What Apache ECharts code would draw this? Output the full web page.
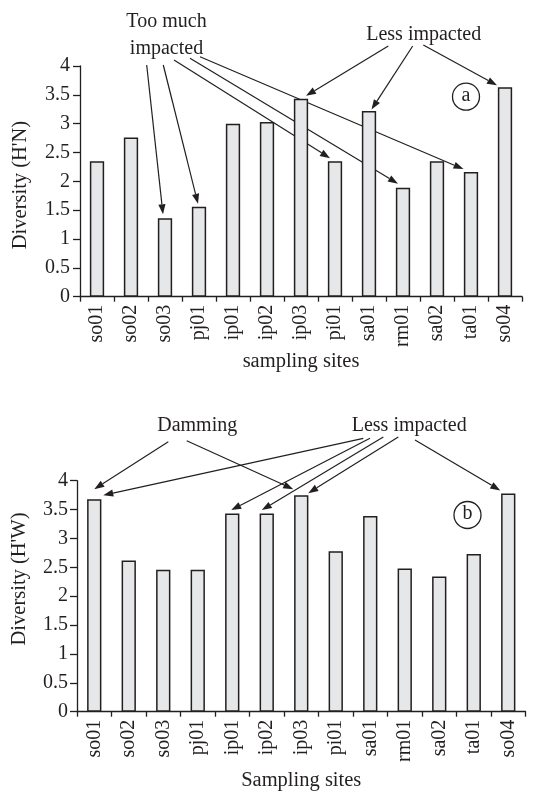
<!DOCTYPE html>
<html>
<head>
<meta charset="utf-8">
<script src="https://cdn.jsdelivr.net/npm/echarts@6/dist/echarts.min.js"></script>
<style>
html,body{margin:0;padding:0;background:#fff;}
#main{width:538px;height:801px;}
</style>
</head>
<body>
<div id="main"></div>
<script>
// ---- data ----
const sites = ['so01','so02','so03','pj01','ip01','ip02','ip03','pi01','sa01','rm01','sa02','ta01','so04'];
const diversityHN = [2.35, 2.76, 1.36, 1.56, 3.00, 3.03, 3.43, 2.35, 3.22, 1.89, 2.35, 2.16, 3.63];
const diversityHW = [3.68, 2.62, 2.46, 2.46, 3.43, 3.43, 3.75, 2.78, 3.39, 2.48, 2.34, 2.73, 3.78];
const yMin = 0, yMax = 4, yStep = 0.5;
const xNameA = 'sampling sites';
const xNameB = 'Sampling sites';
const yNameA = "Diversity (H'N)";
const yNameB = "Diversity (H'W)";

// annotation arrows: start point (px) -> target bar (category), small offset from bar top
const arrowsA = [
  {from:[146.7,65.0], site:'so03', dx:-2, dy:-4},
  {from:[163.3,65.0], site:'pj01', dx:-1, dy:-3},
  {from:[174.0,60.0], site:'pi01', dx:-5, dy:-3},
  {from:[190.0,58.3], site:'rm01', dx:-5, dy:-4},
  {from:[200.0,56.7], site:'ta01', dx:-7.5, dy:-3},
  {from:[388.3,46.0], site:'ip03', dx:5, dy:-3},
  {from:[412.7,46.0], site:'sa01', dx:2.5, dy:-1.5},
  {from:[423.3,45.0], site:'so04', dx:-8, dy:-2}
];
const arrowsB = [
  {from:[168.3,441.7], site:'so01', dx:0, dy:-10},
  {from:[186.7,440.7], site:'ip03', dx:-8, dy:-6},
  {from:[363.3,438.3], site:'so01', dx:9, dy:-4},
  {from:[370.0,438.3], site:'ip01', dx:-1, dy:-3.5},
  {from:[383.3,437.0], site:'ip02', dx:-5, dy:-3.5},
  {from:[398.3,437.0], site:'ip03', dx:7, dy:-2},
  {from:[415.0,440.0], site:'so04', dx:-8, dy:-3}
];

const FONT = "'Liberation Serif','Times New Roman','DejaVu Serif',serif";
const INK = '#231f20';
const BAR_FILL = '#e6e7e8';

const chart = echarts.init(document.getElementById('main'), null, {renderer:'canvas'});

function xAxisCfg(gi, name, gap){
  return {
    type:'category', gridIndex:gi, data:sites, boundaryGap:true,
    name:name, nameLocation:'middle', nameGap:gap,
    nameTextStyle:{fontFamily:FONT, fontSize:20.5, color:INK},
    axisLine:{show:true, lineStyle:{color:INK, width:1.3}},
    axisTick:{show:true, alignWithLabel:false, interval:0, length:5, lineStyle:{color:INK, width:1.3}},
    axisLabel:{interval:0, rotate:90, margin:8, fontFamily:FONT, fontSize:20, color:INK},
    splitLine:{show:false}
  };
}
function yAxisCfg(gi, margin){
  return {
    type:'value', gridIndex:gi, min:yMin, max:yMax, interval:yStep,
    axisLine:{show:true, lineStyle:{color:INK, width:1.3}},
    axisTick:{show:true, inside:false, length:7, lineStyle:{color:INK, width:1.3}},
    axisLabel:{margin:margin, fontFamily:FONT, fontSize:20, color:INK},
    splitLine:{show:false}
  };
}
function barSeries(idx, data){
  return {
    type:'bar', xAxisIndex:idx, yAxisIndex:idx, data:data, barWidth:14.3,
    itemStyle:{color:BAR_FILL, borderColor:INK, borderWidth:1.5},
    silent:true, animation:false
  };
}

chart.setOption({
  animation:false,
  backgroundColor:'#fff',
  grid:[
    {left:80, right:16, top:66, height:230.7, containLabel:false},
    {left:77, right:12.5, top:480.7, height:231, containLabel:false}
  ],
  xAxis:[xAxisCfg(0, xNameA, 51), xAxisCfg(1, xNameB, 58)],
  yAxis:[yAxisCfg(0, 10), yAxisCfg(1, 9)],
  series:[barSeries(0, diversityHN), barSeries(1, diversityHW)]
});

function arrowGraphics(list, seriesIndex, values){
  const out = [];
  list.forEach(a => {
    const i = sites.indexOf(a.site);
    const p = chart.convertToPixel({seriesIndex:seriesIndex}, [i, values[i]]);
    const x2 = p[0] + a.dx, y2 = p[1] + a.dy;
    const x1 = a.from[0], y1 = a.from[1];
    const ang = Math.atan2(y2 - y1, x2 - x1);
    const L = 10, W = 3.6;
    const bx = x2 - L*Math.cos(ang), by = y2 - L*Math.sin(ang);
    out.push({type:'line', silent:true, shape:{x1:x1, y1:y1, x2:bx, y2:by},
      style:{stroke:INK, lineWidth:1.2}});
    out.push({type:'polygon', silent:true,
      shape:{points:[[x2,y2],[bx + W*Math.sin(ang), by - W*Math.cos(ang)],[bx - W*Math.sin(ang), by + W*Math.cos(ang)]]},
      style:{fill:INK}});
  });
  return out;
}
function label(text, x, y, size){
  return {type:'text', silent:true, x:x, y:y,
    style:{text:text, fill:INK, font: (size||20) + 'px ' + FONT, align:'center', verticalAlign:'middle'}};
}
function circled(letter, x, y){
  return [
    {type:'circle', silent:true, shape:{cx:x, cy:y, r:13.5}, style:{fill:'#fff', stroke:INK, lineWidth:1.3}},
    label(letter, x, y - 1, 20)
  ];
}
function yName(text, x, y){
  return {type:'text', silent:true, x:x, y:y, rotation:Math.PI/2,
    style:{text:text, fill:INK, font:'20.5px ' + FONT, align:'center', verticalAlign:'middle'}};
}

const graphics = []
  .concat(arrowGraphics(arrowsA, 0, diversityHN))
  .concat(arrowGraphics(arrowsB, 1, diversityHW))
  .concat([
    label('Too much', 166.5, 22),
    label('impacted', 166.5, 48.5),
    label('Less impacted', 423.7, 34.5),
    label('Damming', 197.2, 426),
    label('Less impacted', 409.2, 426),
    yName(yNameA, 21, 185),
    yName(yNameB, 20, 579)
  ])
  .concat(circled('a', 466, 96.7))
  .concat(circled('b', 467.5, 515));

chart.setOption({graphic: graphics});
</script>
</body>
</html>
